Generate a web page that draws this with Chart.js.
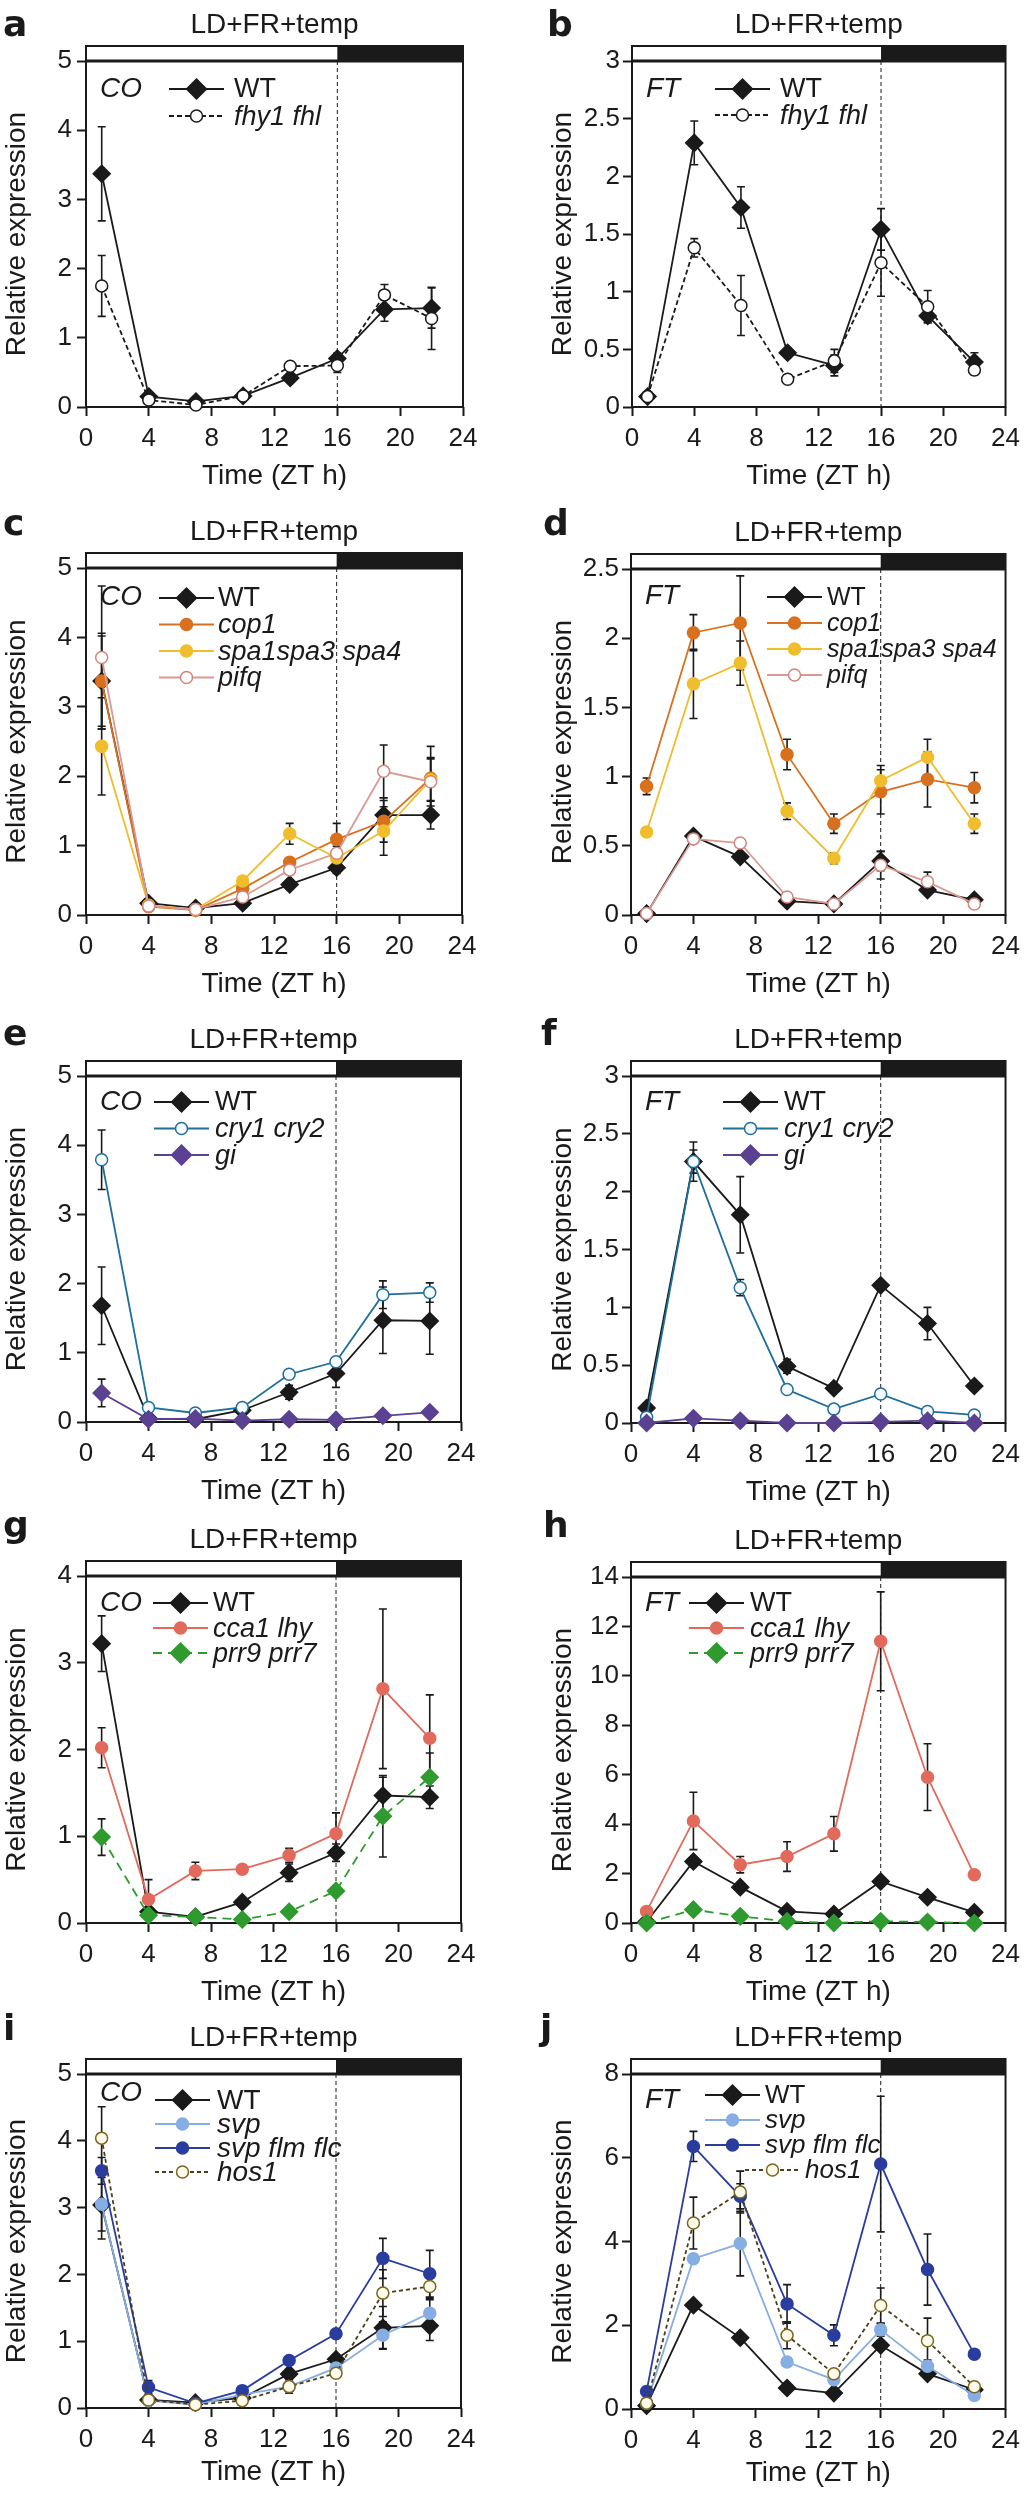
<!DOCTYPE html>
<html>
<head>
<meta charset="utf-8">
<script src="https://cdn.jsdelivr.net/npm/chart.js@4.4.1/dist/chart.umd.min.js"></script>
<style>
  html, body { margin: 0; padding: 0; background: #fff; }
  #page { position: relative; width: 1027px; height: 2512px; overflow: hidden; background: #fff; }
  #page canvas { position: absolute; }
</style>
</head>
<body>
<div id="page"></div>
<script>
(function() {

  // sampling times (ZT h)
  var ZT = [1, 4, 7, 10, 13, 16, 19, 22];

  // a: CO, WT vs fhy1 fhl
  var coA_WT      = [3.37, 0.15, 0.08, 0.16, 0.42, 0.70, 1.41, 1.43];
  var coA_WT_err  = [0.68, 0.05, 0.03, 0.04, 0.06, 0.08, 0.17, 0.29];
  var coA_fhy     = [1.75, 0.10, 0.03, 0.16, 0.59, 0.60, 1.62, 1.28];
  var coA_fhy_err = [0.44, 0.04, 0.02, 0.04, 0.05, 0.10, 0.15, 0.45];

  // b: FT, WT vs fhy1 fhl
  var ftB_WT      = [0.09, 2.29, 1.73, 0.47, 0.36, 1.54, 0.79, 0.39];
  var ftB_WT_err  = [0.02, 0.19, 0.18, 0.04, 0.09, 0.18, 0.06, 0.08];
  var ftB_fhy     = [0.09, 1.38, 0.88, 0.24, 0.40, 1.25, 0.87, 0.32];
  var ftB_fhy_err = [0.02, 0.08, 0.26, 0.03, 0.10, 0.29, 0.14, 0.04];

  // c: CO, WT / cop1 / spa / pifq
  var coC_WT       = [3.37, 0.17, 0.10, 0.17, 0.44, 0.68, 1.44, 1.44];
  var coC_WT_err   = [0.69, 0.05, 0.03, 0.04, 0.06, 0.08, 0.25, 0.20];
  var coC_cop1     = [3.37, 0.12, 0.07, 0.38, 0.76, 1.09, 1.35, 1.97];
  var coC_cop1_err = [0.65, 0.04, 0.03, 0.08, 0.06, 0.23, 0.30, 0.46];
  var coC_spa      = [2.43, 0.14, 0.08, 0.49, 1.17, 0.82, 1.21, 1.95];
  var coC_spa_err  = [0.70, 0.04, 0.03, 0.06, 0.15, 0.10, 0.35, 0.30];
  var coC_pifq     = [3.71, 0.13, 0.08, 0.26, 0.65, 0.89, 2.07, 1.92];
  var coC_pifq_err = [1.03, 0.04, 0.03, 0.05, 0.06, 0.10, 0.38, 0.35];

  // d: FT, WT / cop1 / spa / pifq
  var ftD_WT       = [0.01, 0.57, 0.42, 0.10, 0.08, 0.39, 0.18, 0.11];
  var ftD_WT_err   = [0.01, 0.03, 0.03, 0.02, 0.02, 0.07, 0.03, 0.02];
  var ftD_cop1     = [0.93, 2.04, 2.11, 1.16, 0.66, 0.89, 0.98, 0.92];
  var ftD_cop1_err = [0.06, 0.13, 0.34, 0.11, 0.07, 0.16, 0.20, 0.11];
  var ftD_spa      = [0.60, 1.67, 1.82, 0.75, 0.41, 0.97, 1.14, 0.66];
  var ftD_spa_err  = [0.03, 0.25, 0.16, 0.06, 0.04, 0.11, 0.13, 0.07];
  var ftD_pifq     = [0.01, 0.55, 0.52, 0.13, 0.08, 0.36, 0.24, 0.08];
  var ftD_pifq_err = [0.01, 0.03, 0.03, 0.02, 0.02, 0.10, 0.07, 0.02];

  // e: CO, WT / cry1 cry2 / gi
  var coE_WT      = [1.68, 0.05, 0.04, 0.17, 0.43, 0.70, 1.47, 1.46];
  var coE_WT_err  = [0.56, 0.02, 0.02, 0.04, 0.10, 0.20, 0.48, 0.48];
  var coE_cry     = [3.79, 0.21, 0.13, 0.21, 0.69, 0.87, 1.84, 1.87];
  var coE_cry_err = [0.43, 0.04, 0.03, 0.04, 0.06, 0.06, 0.20, 0.14];
  var coE_gi      = [0.42, 0.04, 0.05, 0.02, 0.04, 0.03, 0.09, 0.14];
  var coE_gi_err  = [0.20, 0.01, 0.01, 0.01, 0.01, 0.01, 0.02, 0.03];

  // f: FT, WT / cry1 cry2 / gi
  var ftF_WT      = [0.13, 2.26, 1.80, 0.49, 0.30, 1.19, 0.86, 0.32];
  var ftF_WT_err  = [0.02, 0.17, 0.33, 0.06, 0.03, 0.04, 0.14, 0.03];
  var ftF_cry     = [0.05, 2.26, 1.17, 0.29, 0.12, 0.25, 0.10, 0.07];
  var ftF_cry_err = [0.01, 0.10, 0.07, 0.02, 0.01, 0.02, 0.01, 0.01];
  var ftF_gi      = [0.00, 0.04, 0.02, 0.00, 0.00, 0.01, 0.02, 0.00];
  var ftF_gi_err  = [0.00, 0.01, 0.01, 0.00, 0.00, 0.00, 0.01, 0.00];

  // g: CO, WT / cca1 lhy / prr9 prr7
  var coG_WT      = [3.22, 0.13, 0.07, 0.24, 0.58, 0.81, 1.47, 1.45];
  var coG_WT_err  = [0.32, 0.03, 0.02, 0.04, 0.10, 0.10, 0.21, 0.13];
  var coG_cca     = [2.02, 0.27, 0.60, 0.62, 0.78, 1.03, 2.70, 2.13];
  var coG_cca_err = [0.23, 0.23, 0.10, 0.05, 0.08, 0.24, 0.92, 0.50];
  var coG_prr     = [0.99, 0.09, 0.07, 0.04, 0.13, 0.37, 1.23, 1.68];
  var coG_prr_err = [0.21, 0.03, 0.02, 0.01, 0.03, 0.05, 0.47, 0.28];

  // h: FT, WT / cca1 lhy / prr9 prr7
  var ftH_WT      = [0.05, 2.49, 1.45, 0.47, 0.36, 1.68, 1.04, 0.43];
  var ftH_WT_err  = [0.02, 0.15, 0.10, 0.05, 0.05, 0.10, 0.10, 0.05];
  var ftH_cca     = [0.47, 4.13, 2.36, 2.69, 3.61, 11.40, 5.90, 1.95];
  var ftH_cca_err = [0.10, 1.16, 0.33, 0.60, 0.70, 2.00, 1.35, 0.15];
  var ftH_prr     = [0.00, 0.54, 0.27, 0.07, 0.00, 0.07, 0.04, 0.00];
  var ftH_prr_err = [0.00, 0.05, 0.03, 0.02, 0.00, 0.02, 0.01, 0.00];

  // i: CO, WT / svp / svp flm flc / hos1
  var coI_WT      = [3.04, 0.12, 0.08, 0.15, 0.51, 0.73, 1.20, 1.23];
  var coI_WT_err  = [0.51, 0.03, 0.02, 0.03, 0.06, 0.06, 0.32, 0.22];
  var coI_svp     = [3.05, 0.11, 0.05, 0.20, 0.32, 0.60, 1.09, 1.42];
  var coI_svp_err = [0.40, 0.03, 0.02, 0.03, 0.05, 0.05, 0.20, 0.22];
  var coI_sff     = [3.55, 0.31, 0.07, 0.26, 0.71, 1.11, 2.24, 2.01];
  var coI_sff_err = [0.20, 0.10, 0.02, 0.03, 0.06, 0.06, 0.30, 0.35];
  var coI_hos     = [4.04, 0.12, 0.05, 0.11, 0.32, 0.52, 1.72, 1.82];
  var coI_hos_err = [0.47, 0.03, 0.02, 0.03, 0.10, 0.06, 0.35, 0.20];

  // j: FT, WT / svp / svp flm flc / hos1
  var ftJ_WT      = [0.08, 2.48, 1.70, 0.50, 0.38, 1.52, 0.84, 0.46];
  var ftJ_WT_err  = [0.02, 0.10, 0.10, 0.05, 0.05, 0.10, 0.08, 0.05];
  var ftJ_svp     = [0.14, 3.59, 3.95, 1.12, 0.70, 1.89, 1.02, 0.32];
  var ftJ_svp_err = [0.02, 0.10, 0.77, 0.10, 0.05, 0.15, 0.15, 0.05];
  var ftJ_sff     = [0.42, 6.27, 5.08, 2.51, 1.76, 5.85, 3.33, 1.31];
  var ftJ_sff_err = [0.05, 0.36, 0.30, 0.46, 0.25, 1.62, 0.85, 0.10];
  var ftJ_hos     = [0.14, 4.44, 5.18, 1.76, 0.84, 2.47, 1.63, 0.53];
  var ftJ_hos_err = [0.02, 0.62, 0.50, 0.32, 0.08, 0.42, 0.54, 0.05];

  var FONT = "'Liberation Sans', Arial, sans-serif";
  var INK = '#1a1a1a';

  var STYLE = {
    'WT':             { line: INK, fill: INK, edge: INK, shape: 'diamond' },
    'fhy1 fhl':       { line: INK, fill: '#ffffff', edge: INK, shape: 'circle', dash: [5, 3] },
    'cop1':           { line: '#d8701e', fill: '#d8701e', edge: '#d8701e', shape: 'circle' },
    'spa1spa3 spa4':  { line: '#f0bd2c', fill: '#f0bd2c', edge: '#f0bd2c', shape: 'circle' },
    'pifq':           { line: '#d99a92', fill: '#ffffff', edge: '#d4857c', shape: 'circle' },
    'cry1 cry2':      { line: '#1f6f9a', fill: '#f6fbff', edge: '#1f6f9a', shape: 'circle' },
    'gi':             { line: '#5b4191', fill: '#5b4191', edge: '#5b4191', shape: 'diamond' },
    'cca1 lhy':       { line: '#e26a5c', fill: '#e26a5c', edge: '#e26a5c', shape: 'circle' },
    'prr9 prr7':      { line: '#2f9b2f', fill: '#2f9b2f', edge: '#2f9b2f', shape: 'diamond', dash: [9, 6] },
    'svp':            { line: '#86aee3', fill: '#86aee3', edge: '#86aee3', shape: 'circle' },
    'svp flm flc':    { line: '#2a3d9e', fill: '#2a3d9e', edge: '#2a3d9e', shape: 'circle' },
    'hos1':           { line: '#4a3f1a', fill: '#fffbea', edge: '#7a6520', shape: 'circle', dash: [4, 3] }
  };

  // layout of each panel (page pixels) and its series
  var PANELS = [
    { letter: 'a', col: 0, L: 86, T: 61, R: 463, B: 407, yMax: 5, yStep: 1, gene: 'CO', geneY: 28, letterX: 3, letterY: -25,
      series: [['WT', coA_WT, coA_WT_err], ['fhy1 fhl', coA_fhy, coA_fhy_err]],
      lg: { x: 83, y: 28, gap: 27, text: 65, size: 27 } },
    { letter: 'b', col: 1, L: 632, T: 61, R: 1008, B: 407, yMax: 3, yStep: 0.5, gene: 'FT', geneY: 28, letterX: 547, letterY: -25,
      series: [['WT', ftB_WT, ftB_WT_err], ['fhy1 fhl', ftB_fhy, ftB_fhy_err]],
      lg: { x: 83, y: 28, gap: 26, text: 65, size: 27 } },
    { letter: 'c', col: 0, L: 86, T: 568, R: 462, B: 915, yMax: 5, yStep: 1, gene: 'CO', geneY: 29, letterX: 3, letterY: -33,
      series: [['WT', coC_WT, coC_WT_err], ['cop1', coC_cop1, coC_cop1_err], ['spa1spa3 spa4', coC_spa, coC_spa_err], ['pifq', coC_pifq, coC_pifq_err]],
      lg: { x: 73, y: 30, gap: 26.5, text: 59, size: 27 } },
    { letter: 'd', col: 1, L: 631, T: 569, R: 1007, B: 915, yMax: 2.5, yStep: 0.5, gene: 'FT', geneY: 27, letterX: 543, letterY: -34,
      series: [['WT', ftD_WT, ftD_WT_err], ['cop1', ftD_cop1, ftD_cop1_err], ['spa1spa3 spa4', ftD_spa, ftD_spa_err], ['pifq', ftD_pifq, ftD_pifq_err]],
      lg: { x: 136, y: 28, gap: 26, text: 60, size: 25 } },
    { letter: 'e', col: 0, L: 86, T: 1076, R: 461, B: 1422, yMax: 5, yStep: 1, gene: 'CO', geneY: 26, letterX: 3, letterY: -31,
      series: [['WT', coE_WT, coE_WT_err], ['cry1 cry2', coE_cry, coE_cry_err], ['gi', coE_gi, coE_gi_err]],
      lg: { x: 68, y: 26, gap: 26.5, text: 61, size: 27 } },
    { letter: 'f', col: 1, L: 631, T: 1076, R: 1007, B: 1423, yMax: 3, yStep: 0.5, gene: 'FT', geneY: 26, letterX: 541, letterY: -31,
      series: [['WT', ftF_WT, ftF_WT_err], ['cry1 cry2', ftF_cry, ftF_cry_err], ['gi', ftF_gi, ftF_gi_err]],
      lg: { x: 92, y: 26, gap: 26.5, text: 61, size: 27 } },
    { letter: 'g', col: 0, L: 86, T: 1576, R: 461, B: 1923, yMax: 4, yStep: 1, gene: 'CO', geneY: 27, letterX: 3, letterY: -39,
      series: [['WT', coG_WT, coG_WT_err], ['cca1 lhy', coG_cca, coG_cca_err], ['prr9 prr7', coG_prr, coG_prr_err]],
      lg: { x: 67, y: 27, gap: 25, text: 60, size: 27 } },
    { letter: 'h', col: 1, L: 631, T: 1577, R: 1007, B: 1923, yMax: 14, yStep: 2, gene: 'FT', geneY: 26, letterX: 543, letterY: -40,
      series: [['WT', ftH_WT, ftH_WT_err], ['cca1 lhy', ftH_cca, ftH_cca_err], ['prr9 prr7', ftH_prr, ftH_prr_err]],
      lg: { x: 58, y: 26, gap: 25, text: 61, size: 27 } },
    { letter: 'i', col: 0, L: 86, T: 2074, R: 461, B: 2408, yMax: 5, yStep: 1, gene: 'CO', geneY: 19, letterX: 3, letterY: -34, xTitleDy: -5,
      series: [['WT', coI_WT, coI_WT_err], ['svp', coI_svp, coI_svp_err], ['svp flm flc', coI_sff, coI_sff_err], ['hos1', coI_hos, coI_hos_err]],
      lg: { x: 69, y: 26, gap: 24, text: 62, size: 28 } },
    { letter: 'j', col: 1, L: 631, T: 2074, R: 1007, B: 2409, yMax: 8, yStep: 2, gene: 'FT', geneY: 26, letterX: 540, letterY: -34, xTitleDy: -5,
      series: [['WT', ftJ_WT, ftJ_WT_err], ['svp', ftJ_svp, ftJ_svp_err], ['svp flm flc', ftJ_sff, ftJ_sff_err], ['hos1', ftJ_hos, ftJ_hos_err]],
      lg: { x: 74, y: 21, gap: 25, text: 60, size: 26, shift: { 3: 40 } } }
  ];

  function drawMarker(ctx, style, x, y, r, fill, edge, lw) {
    ctx.beginPath();
    if (style === 'rectRot') {
      ctx.moveTo(x - r, y); ctx.lineTo(x, y - r); ctx.lineTo(x + r, y); ctx.lineTo(x, y + r);
      ctx.closePath();
    } else {
      ctx.arc(x, y, r, 0, Math.PI * 2);
    }
    ctx.fillStyle = fill; ctx.fill();
    ctx.lineWidth = lw; ctx.strokeStyle = edge; ctx.setLineDash([]); ctx.stroke();
  }

  function plainNumber(v) {
    return String(+Number(v).toFixed(2));
  }

  function decorPlugin(p) {
    return {
      id: 'panelDecor',
      beforeDatasetsDraw: function(chart) {
        var ctx = chart.ctx, ca = chart.chartArea;
        var xs = chart.scales.x, ys = chart.scales.y;
        var x16 = xs.getPixelForValue(16);
        var barTop = ca.top - 15;
        ctx.save();
        // light / dark bar
        ctx.fillStyle = INK;
        ctx.fillRect(x16, barTop, ca.right - x16, 15);
        ctx.strokeStyle = INK; ctx.lineWidth = 2;
        ctx.strokeRect(ca.left, barTop, ca.right - ca.left, ca.bottom - barTop);
        ctx.lineWidth = 3;
        ctx.beginPath(); ctx.moveTo(ca.left, ca.top); ctx.lineTo(ca.right, ca.top); ctx.stroke();
        // lights-off line
        ctx.lineWidth = 1; ctx.setLineDash([4, 3]);
        ctx.beginPath(); ctx.moveTo(x16, ca.top); ctx.lineTo(x16, ca.bottom); ctx.stroke();
        ctx.setLineDash([]);
        // error bars
        ctx.lineWidth = 1.6; ctx.strokeStyle = INK;
        chart.data.datasets.forEach(function(ds) {
          ds.data.forEach(function(pt, k) {
            var e = ds.errors[k];
            if (!e) return;
            var px = xs.getPixelForValue(pt.x);
            var y1 = ys.getPixelForValue(pt.y + e), y2 = ys.getPixelForValue(Math.max(pt.y - e, 0));
            ctx.beginPath();
            ctx.moveTo(px, y1); ctx.lineTo(px, y2);
            ctx.moveTo(px - 4, y1); ctx.lineTo(px + 4, y1);
            ctx.moveTo(px - 4, y2); ctx.lineTo(px + 4, y2);
            ctx.stroke();
          });
        });
        ctx.restore();
      },
      afterDraw: function(chart) {
        var ctx = chart.ctx, ca = chart.chartArea;
        ctx.save();
        ctx.fillStyle = INK;
        ctx.textBaseline = 'middle';
        ctx.textAlign = 'center';
        ctx.font = '28px ' + FONT;
        ctx.fillText('LD+FR+temp', (ca.left + ca.right) / 2, ca.top - 36);

        ctx.textAlign = 'left';
        ctx.textBaseline = 'alphabetic';
        ctx.font = 'bold 36px "DejaVu Sans", sans-serif';
        ctx.fillText(p.letter, p.letterX - (p.col ? 513 : 0), ca.top + p.letterY);

        ctx.textBaseline = 'middle';
        ctx.font = 'italic 28px ' + FONT;
        ctx.fillText(p.gene, ca.left + 14, ca.top + p.geneY);

        // legend, built from the datasets
        var lg = p.lg;
        chart.data.datasets.forEach(function(ds, i) {
          var lx = ca.left + lg.x + ((lg.shift && lg.shift[i]) || 0);
          var ly = ca.top + lg.y + i * lg.gap;
          ctx.strokeStyle = ds.borderColor; ctx.lineWidth = ds.borderWidth;
          ctx.setLineDash(ds.borderDash || []);
          ctx.beginPath(); ctx.moveTo(lx, ly); ctx.lineTo(lx + 55, ly); ctx.stroke();
          var r = ds.pointStyle === 'rectRot' ? 10 : ds.pointRadius;
          drawMarker(ctx, ds.pointStyle, lx + 27.5, ly, r, ds.pointBackgroundColor, ds.pointBorderColor, ds.pointBorderWidth);
          ctx.fillStyle = INK;
          ctx.font = (ds.label === 'WT' ? '' : 'italic ') + lg.size + 'px ' + FONT;
          ctx.fillText(ds.label, lx + lg.text, ly + 1);
        });
        ctx.restore();
      }
    };
  }

  var page = document.getElementById('page');

  PANELS.forEach(function(p) {
    var colLeft = p.col ? 513 : 0;
    var colW = p.col ? 514 : 513;
    var padTop = 75;
    var xh = 86 + (p.xTitleDy || 0);
    var canvasTop = p.T - padTop;
    var h = p.B + xh - canvasTop;

    var cv = document.createElement('canvas');
    cv.width = colW; cv.height = h;
    cv.style.left = colLeft + 'px'; cv.style.top = canvasTop + 'px';
    cv.style.width = colW + 'px'; cv.style.height = h + 'px';
    page.appendChild(cv);

    var datasets = p.series.map(function(s, i) {
      var st = STYLE[s[0]];
      var diamond = st.shape === 'diamond';
      return {
        label: s[0],
        data: ZT.map(function(t, k) { return { x: t, y: s[1][k] }; }),
        errors: s[2],
        borderColor: st.line,
        backgroundColor: st.fill,
        borderWidth: 1.8,
        borderDash: st.dash || [],
        pointStyle: diamond ? 'rectRot' : 'circle',
        pointRadius: diamond ? 8.5 : 6,
        pointHoverRadius: diamond ? 8.5 : 6,
        pointBackgroundColor: st.fill,
        pointBorderColor: st.edge,
        pointBorderWidth: 1.5,
        tension: 0,
        fill: false,
        clip: false,
        order: -i
      };
    });

    var tickFont = { family: FONT, size: 26 };
    var titleFont = { family: FONT, size: 28 };

    new Chart(cv, {
      type: 'line',
      data: { datasets: datasets },
      options: {
        responsive: false,
        animation: false,
        devicePixelRatio: 1,
        events: [],
        layout: { padding: { top: padTop, right: colW - (p.R - colLeft), left: 0, bottom: 0 } },
        plugins: { legend: { display: false }, title: { display: false }, tooltip: { enabled: false } },
        scales: {
          x: {
            type: 'linear', min: 0, max: 24,
            ticks: { stepSize: 4, color: INK, font: tickFont, padding: 7, maxRotation: 0, autoSkip: false, callback: plainNumber },
            grid: { display: true, drawOnChartArea: false, drawTicks: true, tickLength: 9, tickWidth: 2, tickColor: INK },
            border: { display: false },
            title: { display: true, text: 'Time (ZT h)', color: INK, font: titleFont, padding: { top: 0, bottom: 0 } },
            afterFit: function(scale) { scale.height = xh; }
          },
          y: {
            type: 'linear', min: 0, max: p.yMax,
            ticks: { stepSize: p.yStep, color: INK, font: tickFont, padding: p.col ? 3 : 5, callback: plainNumber },
            grid: { display: true, drawOnChartArea: false, drawTicks: true, tickLength: 9, tickWidth: 2, tickColor: INK },
            border: { display: false },
            title: { display: true, text: 'Relative expression', color: INK, font: titleFont, padding: { top: p.col ? 33 : 0, bottom: 0 } },
            afterFit: function(scale) { scale.width = p.L - colLeft; }
          }
        }
      },
      plugins: [decorPlugin(p)]
    });
  });

})();
</script>
</body>
</html>
